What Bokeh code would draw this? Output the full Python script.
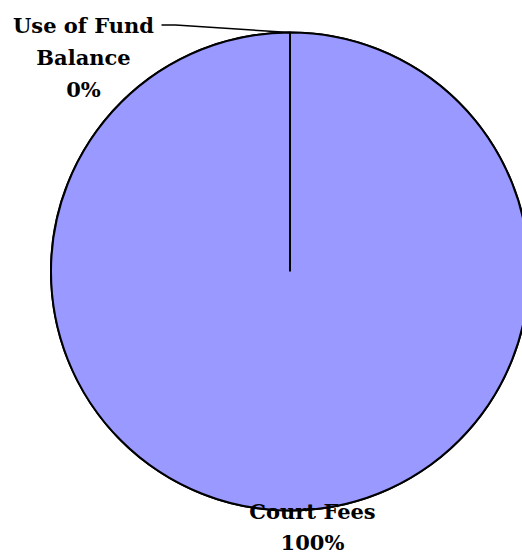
import numpy as np
from bokeh.plotting import figure
from bokeh.models import Range1d, ColumnDataSource
from bokeh.core.properties import value
from bokeh.embed import file_html
from bokeh.resources import INLINE

# ---- data ----
categories = ["Court Fees", "Use of Fund Balance"]
amounts = [100.0, 0.0]
pct_labels = ["100%", "0%"]
colors = ["#9999FF", "#9999FF"]

# ---- layout ----
W, H = 522, 556
CX, CY, R = 289.5, 285.0, 239.0

p = figure(width=W, height=H, output_backend="svg", toolbar_location=None,
           x_range=Range1d(0, W), y_range=Range1d(0, H), min_border=0,
           outline_line_color=None)
p.axis.visible = False
p.grid.visible = False
p.background_fill_color = "white"

total = sum(amounts)
fracs = [a / total for a in amounts]
start = np.pi / 2
starts, ends = [], []
for f in fracs:
    sweep = 2 * np.pi * f
    if sweep >= 2 * np.pi:
        sweep = 2 * np.pi - 1e-4
    starts.append(start)
    ends.append(start - sweep)
    start = start - sweep

src = ColumnDataSource(dict(cat=categories, amt=amounts, s=starts, e=ends, c=colors))
p.wedge(x=CX, y=CY, radius=R, start_angle="s", end_angle="e", direction="clock",
        fill_color="c", line_color="black", line_width=2, source=src)

font = value("DejaVu Serif")
# Court Fees label
p.text(x=[312, 312], y=[45, 14], text=[categories[0], pct_labels[0]],
       text_font=font, text_font_style="bold", text_font_size="21px",
       text_align="center", text_baseline="alphabetic", text_color="black")
# Use of Fund Balance label
p.text(x=[83, 83, 83], y=[531, 499, 467], text=["Use of Fund", "Balance", pct_labels[1]],
       text_font=font, text_font_style="bold", text_font_size="21px",
       text_align="center", text_baseline="alphabetic", text_color="black")
# leader line
p.line(x=[161, 175, CX], y=[531.5, 531.5, CY + R], line_color="black", line_width=1.5)

open("out.html", "w").write(file_html(p, INLINE))
